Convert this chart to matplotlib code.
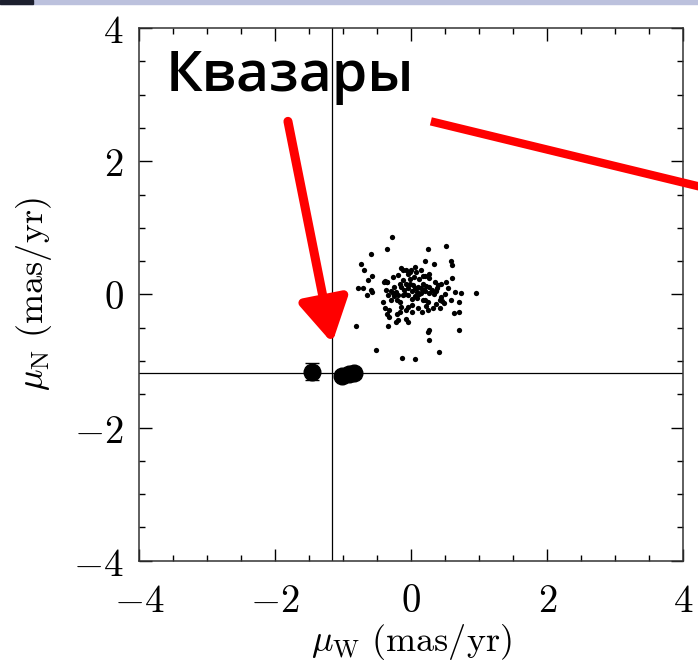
import matplotlib.pyplot as plt
from matplotlib.patches import Rectangle
from matplotlib.ticker import MultipleLocator, FuncFormatter

plt.rcParams['mathtext.fontset'] = 'cm'

# собственные движения звёзд (mas/yr)
star_w = [-0.28, -0.36, -0.59, 0.25, 0.51, 0.21, 0.33, 0.59, 0.60, -0.74,
          -0.69, -0.58, -0.63, -0.78, -0.71, -0.59, -0.58, -0.65, -0.81, -0.52,
          -0.13, 0.05, 0.41, 0.71, 0.26, 0.27, 0.25, 0.96, 0.74, 0.71,
          0.63, 0.71, 0.64, 0.59, 0.60, 0.51, 0.44, -0.34, -0.22, -0.19,
          -0.07, -0.04, -0.33, -0.36, -0.39, -0.32, -0.41, -0.30, -0.25, -0.37,
          -0.40, -0.35, -0.27, -0.19, -0.15, -0.07, 0.00, 0.05, 0.07, 0.15,
          0.21, 0.27, 0.27, 0.35, 0.40, 0.37, 0.34, 0.42, 0.45, 0.36,
          0.32, 0.25, 0.22, 0.17, 0.08, 0.01, -0.05, -0.10, -0.15, -0.12,
          -0.19, -0.21, -0.17, -0.15, -0.05, 0.02, 0.10, -0.02, 0.03, 0.05,
          0.10, 0.15, 0.17, 0.22, 0.27, 0.20, 0.27, 0.15, 0.08, 0.01,
          -0.05, -0.08, -0.02, 0.04, 0.11, 0.17, -0.05, -0.12, -0.17, -0.25,
          -0.30, -0.27, -0.34, 0.54, 0.50, 0.44, 0.49, 0.20, 0.25, -0.07,
          0.01, -0.17, -0.21, 0.16, 0.42, -0.12, -0.02, -0.39, -0.35, 0.12,
          0.30, -0.09, 0.06, 0.19, -0.22, 0.38]
star_n = [0.87, 0.68, 0.61, 0.68, 0.73, 0.51, 0.46, 0.50, 0.44, 0.46,
          0.36, 0.27, 0.22, 0.10, 0.10, 0.06, 0.03, -0.01, -0.47, -0.83,
          -0.95, -0.97, -0.86, -0.53, -0.68, -0.53, -0.56, 0.02, 0.02, -0.11,
          -0.28, -0.27, 0.04, -0.09, 0.24, 0.19, 0.16, -0.48, -0.41, -0.39,
          -0.37, -0.41, -0.34, -0.29, -0.21, -0.23, -0.12, -0.09, -0.03, 0.06,
          0.19, 0.19, 0.26, 0.29, 0.39, 0.36, 0.36, 0.42, 0.33, 0.37,
          0.28, 0.31, 0.24, 0.19, 0.14, 0.05, 0.00, -0.08, -0.10, -0.14,
          -0.21, -0.24, -0.17, -0.08, -0.05, -0.07, -0.01, 0.06, 0.11, -0.01,
          -0.01, -0.09, -0.12, -0.19, -0.19, -0.16, -0.21, 0.16, 0.14, 0.09,
          0.11, 0.10, 0.15, 0.12, 0.11, 0.05, 0.02, 0.02, 0.03, 0.05,
          0.09, 0.15, 0.23, 0.26, 0.23, 0.28, 0.31, 0.21, 0.16, 0.11,
          0.05, 0.02, -0.01, 0.09, 0.01, -0.04, -0.13, -0.08, -0.11, -0.24,
          -0.26, -0.26, -0.29, -0.26, -0.21, 0.36, 0.34, 0.20, 0.19, 0.00,
          0.07, 0.01, -0.03, 0.06, 0.04, 0.10]

# квазары
qso_w = [-1.46, -1.01, -0.91, -0.84]
qso_n = [-1.16, -1.22, -1.20, -1.18]
qso_err = [0.13, 0.07, 0.07, 0.08]

ref_w = -1.16
ref_n = -1.18

fig = plt.figure(figsize=(6.98, 6.70), dpi=100)
ax = fig.add_axes([0.199, 0.163, 0.780, 0.795])

ax.axvline(ref_w, color='k', lw=0.9)
ax.axhline(ref_n, color='k', lw=0.9)
ax.plot(star_w, star_n, 'o', color='k', ms=3.8, mew=0)
ax.errorbar(qso_w, qso_n, yerr=qso_err, xerr=0.03, fmt='o', color='k',
            ms=12, capsize=5, elinewidth=1, capthick=1)

ax.set_xlim(-4, 4)
ax.set_ylim(-4, 4)
for a in (ax.xaxis, ax.yaxis):
    a.set_major_locator(MultipleLocator(2))
    a.set_minor_locator(MultipleLocator(0.5))
    a.set_major_formatter(FuncFormatter(lambda v, p: r'$%g$' % v))
ax.tick_params(which='both', direction='in', top=True, right=True,
               labelsize=28, width=1)
ax.tick_params(which='major', length=9)
ax.tick_params(which='minor', length=4.5)
ax.tick_params(axis='x', which='major', pad=15)
ax.tick_params(axis='y', which='major', pad=11)
for s in ax.spines.values():
    s.set_linewidth(1.1)
    s.set_color('#333333')

ax.set_xlabel(r'$\mu_{\rm W}\ {\rm (mas/yr)}$', fontsize=26, labelpad=2)
ax.set_ylabel(r'$\mu_{\rm N}\ {\rm (mas/yr)}$', fontsize=26, labelpad=14)

ax.text(-3.6, 3.06, 'Квазары', fontsize=41, family=['Open Sans', 'DejaVu Sans'],
        weight='semibold', va='baseline', ha='left', zorder=5)

# красные стрелки
ax.annotate('', xy=(-1.16, -0.73), xytext=(-1.81, 2.60),
            arrowprops=dict(arrowstyle='-|>,head_length=2.6,head_width=1.5',
                            color='#ff0000', lw=6.5, shrinkA=0, shrinkB=0),
            annotation_clip=False, zorder=6)
ax.plot([0.29, 4.24], [2.60, 1.62], color='#ff0000', lw=6,
        solid_capstyle='butt', clip_on=False, zorder=6)

# полоска сверху
fig.patches.append(Rectangle((0, 1 - 3.5 / 670), 1, 3.5 / 670,
                             transform=fig.transFigure, color='#bcc1dd', zorder=0))
fig.patches.append(Rectangle((0, 1 - 3.5 / 670), 33 / 698, 3.5 / 670,
                             transform=fig.transFigure, color='#1c1f2e', zorder=1))

fig.savefig('out.png', dpi=100)
